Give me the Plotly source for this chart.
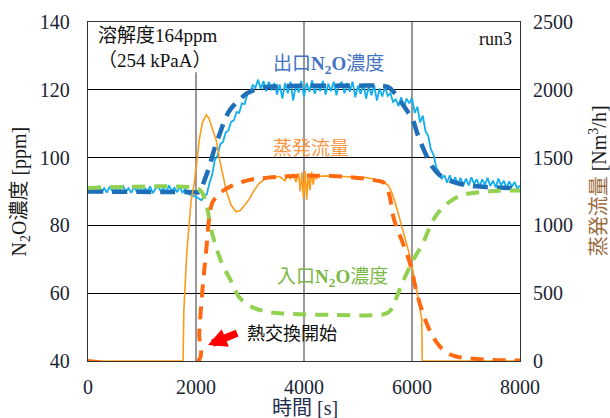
import plotly.graph_objects as go

# ---------------- data ----------------
# outlet N2O measured (ppm), sampled every 50 s from 0 to 8000 s
t_out_meas = list(range(0, 8001, 50))
out_meas = [
    90.0, 91.2, 89.6, 90.8, 91.5, 89.8, 91.0, 89.7, 91.4, 90.2,
    91.3, 89.5, 90.9, 91.6, 89.9, 91.0, 89.6, 91.3, 90.1, 91.8,
    89.8, 91.1, 90.0, 91.5, 89.5, 90.9, 91.4, 90.0, 91.2, 89.7,
    91.8, 90.1, 91.1, 89.8, 91.4, 89.6, 90.8, 89.3, 89.0, 88.6,
    88.5, 87.9, 87.4, 88.6, 89.2, 92.5, 95.0, 99.4, 100.6, 104.0,
    104.6, 107.4, 108.0, 110.6, 110.9, 113.4, 113.2, 116.0, 115.8, 118.6,
    119.2, 121.4, 120.6, 123.0, 120.2, 122.6, 119.6, 122.4, 119.8, 122.0,
    118.6, 121.6, 117.4, 122.0, 119.0, 122.4, 116.8, 121.6, 119.2, 122.6,
    118.0, 122.0, 119.4, 122.8, 118.8, 121.8, 119.6, 122.6, 118.6, 121.8,
    119.6, 122.4, 118.4, 121.6, 122.2, 119.0, 122.0, 119.4, 122.4, 117.8,
    121.2, 118.8, 121.8, 117.4, 121.0, 118.4, 121.4, 116.8, 120.4, 118.0,
    120.8, 118.2, 119.0, 116.4, 117.2, 115.2, 117.8, 114.6, 117.4, 116.0,
    117.6, 113.2, 115.0, 110.4, 112.4, 107.8, 106.4, 102.4, 100.8, 97.0,
    95.8, 93.8, 94.8, 92.6, 94.8, 92.4, 94.2, 92.0, 94.0, 91.8,
    93.8, 91.8, 94.2, 92.2, 93.6, 91.4, 93.6, 92.0, 94.0, 91.6,
    93.2, 91.2, 93.8, 91.8, 93.2, 91.0, 93.0, 91.4, 92.8, 90.8,
    91.8,
]

# outlet N2O model (ppm)
t_out_model = [0, 2000, 2050, 2100, 2150, 2240, 2350, 2450, 2550, 2650, 2800, 2950,
               3180, 3500, 5000, 5400, 5560, 5680, 5780, 5900, 6020, 6100, 6200,
               6300, 6390, 6500, 6700, 6900, 7130, 7500, 8000]
out_model = [90.0, 89.8, 89.8, 91.0, 93.0, 97.0, 103.0, 107.5, 111.8, 114.5, 117.0, 119.0,
             120.5, 121.0, 121.2, 121.2, 120.8, 119.0, 116.8, 114.0, 110.9, 107.0, 103.0,
             99.5, 97.0, 95.0, 93.2, 92.2, 91.6, 91.2, 91.0]

# inlet N2O model (ppm)
t_in_model = [0, 2000, 2100, 2180, 2300, 2480, 2670, 2800, 3040, 3300, 3600, 4500,
              5400, 5550, 5630, 5720, 5820, 6020, 6200, 6390, 6550, 6700, 6900,
              7200, 7600, 8000]
in_model = [91.0, 91.0, 90.0, 87.0, 77.6, 68.8, 63.0, 58.8, 55.9, 54.6, 54.0, 53.6,
            53.6, 54.2, 55.5, 59.0, 63.0, 69.7, 74.7, 81.5, 85.0, 87.0, 88.8,
            89.7, 90.2, 90.3]

# evaporation flow measured (Nm3/h)
t_evap_meas = [0, 1760, 1775, 1830, 1910, 1960, 2010, 2060, 2120, 2190, 2240, 2300,
               2380, 2440, 2500, 2570, 2650, 2740, 2820, 2900, 2980, 3080, 3170,
               3270, 3350, 3450, 3550, 3650, 3700, 3750, 3800, 3850, 3900, 3930,
               3960, 3990, 4020, 4050, 4080, 4110, 4140, 4170, 4200, 4230, 4260,
               4300, 4400, 4550, 4700, 4900, 5100, 5300, 5450, 5550, 5620, 5680,
               5750, 5850, 5950, 6050, 6120, 6180, 6190, 6300, 8000]
evap_meas = [0, 0, 370, 800, 1187, 1290, 1450, 1630, 1760, 1815, 1790, 1720,
             1620, 1480, 1360, 1240, 1150, 1100, 1110, 1150, 1190, 1260, 1310,
             1340, 1350, 1355, 1360, 1330, 1375, 1345, 1380, 1320, 1385, 1250,
             1390, 1200, 1400, 1190, 1385, 1260, 1395, 1300, 1380, 1340, 1370,
             1362, 1365, 1362, 1360, 1358, 1355, 1342, 1320, 1300, 1250, 1180,
             1080, 930, 790, 600, 450, 310, 0, 0, 0]

# evaporation flow model (Nm3/h)
t_evap_model = [0, 2040, 2060, 2130, 2190, 2240, 2300, 2400, 2480, 2650, 2850, 3050,
                3280, 3700, 4500, 5110, 5350, 5480, 5570, 5670, 5820, 5960, 6090,
                6200, 6300, 6390, 6500, 6630, 6800, 7000, 7500, 8000]
evap_model = [0, 0, 206, 575, 818, 1040, 1165, 1220, 1250, 1290, 1320, 1340,
              1350, 1362, 1365, 1345, 1330, 1315, 1240, 1040, 880, 723, 501,
              354, 250, 177, 115, 66, 35, 22, 8, 3]

x_ticks = [0, 2000, 4000, 6000, 8000]
y_ticks = [40, 60, 80, 100, 120, 140]
y2_ticks = [0, 500, 1000, 1500, 2000, 2500]

# ---------------- styling ----------------
FONT = "Liberation Serif, Noto Sans CJK JP, serif"
TICK_COLOR = "#1b2433"

fig = go.Figure()
fig.add_trace(go.Scatter(x=t_out_meas, y=out_meas, mode="lines",
                         line=dict(color="#12AEEF", width=1.8), showlegend=False))
fig.add_trace(go.Scatter(x=t_evap_meas, y=evap_meas, mode="lines", yaxis="y2",
                         line=dict(color="#FF9A1A", width=1.6), showlegend=False))
fig.add_trace(go.Scatter(x=t_out_model, y=out_model, mode="lines",
                         line=dict(color="#1F6FB8", width=4.5, dash="15px,9px",
                                   shape="spline"), showlegend=False))
fig.add_trace(go.Scatter(x=t_evap_model, y=evap_model, mode="lines", yaxis="y2",
                         line=dict(color="#FF6A10", width=4, dash="13px,9px",
                                   shape="spline"), showlegend=False))
fig.add_trace(go.Scatter(x=t_in_model, y=in_model, mode="lines",
                         line=dict(color="#92D050", width=4, dash="13px,9px",
                                   shape="spline"), showlegend=False))

# vertical guide lines (2000 line stops below the solubility note)
shapes = [
    dict(type="line", xref="x", yref="y", x0=2000, x1=2000, y0=40, y1=125.2,
         line=dict(color="#6e6e6e", width=1.4), layer="below"),
    dict(type="line", xref="x", yref="y", x0=4000, x1=4000, y0=40, y1=140,
         line=dict(color="#6e6e6e", width=1.4), layer="below"),
    dict(type="line", xref="x", yref="y", x0=6000, x1=6000, y0=40, y1=140,
         line=dict(color="#6e6e6e", width=1.4), layer="below"),
]

annotations = [
    dict(x=0.018, y=0.997, xref="paper", yref="paper", xanchor="left", yanchor="top",
         text="溶解度164ppm<br>（254 kPaA）", align="left", showarrow=False,
         font=dict(family=FONT, size=19, color="#111111")),
    dict(x=0.985, y=0.985, xref="paper", yref="paper", xanchor="right", yanchor="top",
         text="run3", showarrow=False, font=dict(family=FONT, size=18, color="#111111")),
    dict(x=3390, y=127.4, xref="x", yref="y", xanchor="left", yanchor="middle",
         text="出口<b>N<sub>2</sub>O</b>濃度", showarrow=False,
         font=dict(family=FONT, size=19, color="#4472C4")),
    dict(x=3390, y=102.6, xref="x", yref="y", xanchor="left", yanchor="middle",
         text="蒸発流量", showarrow=False,
         font=dict(family=FONT, size=19, color="#F7963F")),
    dict(x=3460, y=64.4, xref="x", yref="y", xanchor="left", yanchor="middle",
         text="入口<b>N<sub>2</sub>O</b>濃度", showarrow=False,
         font=dict(family=FONT, size=19, color="#7DB847")),
    dict(x=2900, y=48.5, xref="x", yref="y", xanchor="left", yanchor="middle",
         text="熱交換開始", showarrow=False,
         font=dict(family="Noto Sans CJK JP, sans-serif", size=18, color="#111111")),
    dict(x=2222, y=44.7, xref="x", yref="y", ax=2790, ay=48.4, axref="x", ayref="y",
         text="", showarrow=True, arrowhead=2, arrowsize=0.5, arrowwidth=7.5,
         arrowcolor="#FF0000"),
    # axis titles
    dict(x=0, y=0.5, xref="paper", yref="paper", xshift=-68, textangle=-90,
         xanchor="center", yanchor="middle", showarrow=False,
         text="N<sub>2</sub>O濃度 [ppm]", font=dict(family=FONT, size=20, color="#1a1a1a")),
    dict(x=1, y=0.53, xref="paper", yref="paper", xshift=78, textangle=-90,
         xanchor="center", yanchor="middle", showarrow=False,
         text="<span style='color:#9A6A3C'>蒸発流量</span> [Nm<sup>3</sup>/h]",
         font=dict(family=FONT, size=20, color="#1a1a1a")),
    dict(x=0.502, y=0, xref="paper", yref="paper", yshift=-47,
         xanchor="center", yanchor="middle", showarrow=False,
         text="時間 [s]", font=dict(family=FONT, size=20, color="#1F2F4F")),
]

fig.update_layout(
    width=610, height=418,
    margin=dict(l=88, r=90, t=22, b=57, pad=0),
    paper_bgcolor="white", plot_bgcolor="white",
    font=dict(family=FONT, size=20, color=TICK_COLOR),
    xaxis=dict(range=[0, 8000], tickvals=x_ticks, ticktext=[str(v) for v in x_ticks],
               showgrid=False, zeroline=False, showline=True, linecolor="#333333",
               linewidth=1.3, mirror=True, ticks="", ticklabelstandoff=8,
               tickfont=dict(family=FONT, size=20, color=TICK_COLOR)),
    yaxis=dict(range=[40, 140], tickvals=y_ticks, ticktext=[str(v) for v in y_ticks],
               showgrid=True, gridcolor="#000000", gridwidth=1, zeroline=False,
               showline=True, linecolor="#333333", linewidth=1.3, mirror=True,
               ticks="", ticklabelstandoff=13,
               tickfont=dict(family=FONT, size=20, color=TICK_COLOR)),
    yaxis2=dict(range=[0, 2500], tickvals=y2_ticks, ticktext=[str(v) for v in y2_ticks],
                overlaying="y", side="right", showgrid=False, zeroline=False,
                showline=False, ticks="", ticklabelstandoff=12,
                tickfont=dict(family=FONT, size=20, color=TICK_COLOR)),
    shapes=shapes,
    annotations=annotations,
    showlegend=False,
)

fig.write_html("out.html", config={"displayModeBar": False},
               post_script="document.body.style.margin='0';")
